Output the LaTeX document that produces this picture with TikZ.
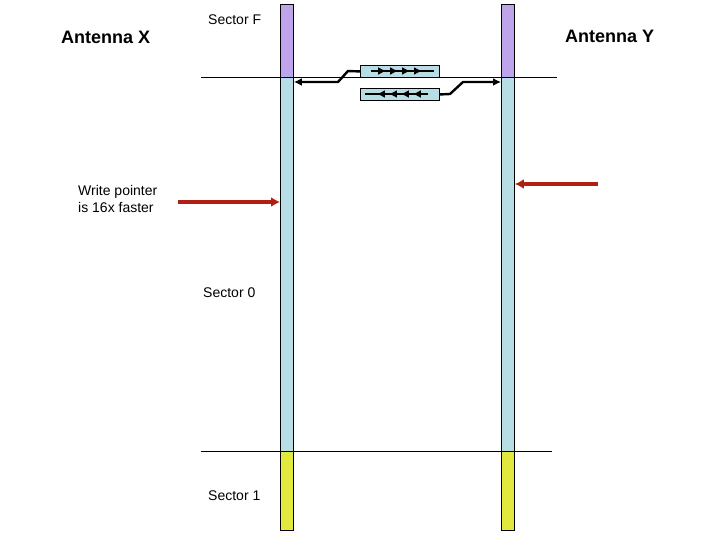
\documentclass[tikz,border=0pt]{standalone}
\usepackage{fontspec}
\setmainfont{Liberation Sans}
\usepackage{tikz}
\usetikzlibrary{arrows.meta}
\usetikzlibrary{decorations.markings}
\definecolor{secF}{RGB}{190,165,235}
\definecolor{sec0}{RGB}{183,222,228}
\definecolor{sec1}{RGB}{226,232,62}
\definecolor{ptrred}{RGB}{178,30,20}
\tikzstyle{seg}=[draw, line width=0.9pt, minimum width=13, inner sep=0pt, anchor=north west]
\tikzstyle{buf}=[draw, fill=sec0, line width=0.9pt, minimum width=79, minimum height=12, inner sep=0pt, anchor=north west]
\tikzstyle{link}=[draw, line width=2.4pt, -{Latex[length=8pt,width=8pt]}]
\tikzstyle{ptr}=[draw, ptrred, line width=3.4pt, -{Latex[length=9pt,width=10pt]}]
\tikzstyle{lbl}=[font=\fontsize{14}{17}\selectfont, anchor=west, inner sep=0pt]
\tikzstyle{ant}=[font=\fontsize{18}{21}\selectfont\bfseries, anchor=west, inner sep=0pt]
\tikzstyle{flow}=[line width=2pt, postaction={decorate}, decoration={markings,
  mark=between positions 0.24 and 1 step 0.19 with {\arrow{Latex[length=8pt,width=8pt]}}}]

\begin{document}
\begin{tikzpicture}[x=1pt, y=-1pt]
\useasboundingbox (0,0) rectangle (720,540);

% antenna X
\node[seg, fill=secF, minimum height=73] (xF) at (280,4) {};
\node[seg, fill=sec0, minimum height=374] (x0) at (280,77) {};
\node[seg, fill=sec1, minimum height=79] (x1) at (280,451) {};
% antenna Y
\node[seg, fill=secF, minimum height=73] (yF) at (501,4) {};
\node[seg, fill=sec0, minimum height=374] (y0) at (501,77) {};
\node[seg, fill=sec1, minimum height=79] (y1) at (501,451) {};

\draw[line width=0.9pt] (201,77) -- (557,77);
\draw[line width=0.9pt] (201,451) -- (552,451);

\node[ant] (antX) at (61,37) {Antenna X};
\node[ant] (antY) at (565,36) {Antenna Y};
\node[lbl] (labF) at (208,20) {Sector F};
\node[lbl] (lab0) at (203,293) {Sector 0};
\node[lbl] (lab1) at (208,496) {Sector 1};
\node[lbl, align=left] (wnote) at (78,198.5) {Write pointer\\is 16x faster};

% buffers
\node[buf] (bufW) at (360,65) {};
\node[buf] (bufR) at (360,88) {};
\draw[flow] (371,71) -- (434,71);
\draw[flow] (428,94) -- (365,94);

\coordinate (wb1) at (348,71);
\coordinate (wb2) at (338,82);
\coordinate (rb1) at (450,94);
\coordinate (rb2) at (463,82);
\draw[link] (bufW.west) -- (wb1) -- (wb2) -- (x0.east|-wb2);
\draw[link] (bufR.east) -- (rb1) -- (rb2) -- (y0.west|-rb2);

% pointers
\coordinate (wp) at (178,202);
\coordinate (rp) at (598,184);
\draw[ptr] (wp) -- (x0.west|-wp);
\draw[ptr] (rp) -- (y0.east|-rp);
\end{tikzpicture}
\end{document}
